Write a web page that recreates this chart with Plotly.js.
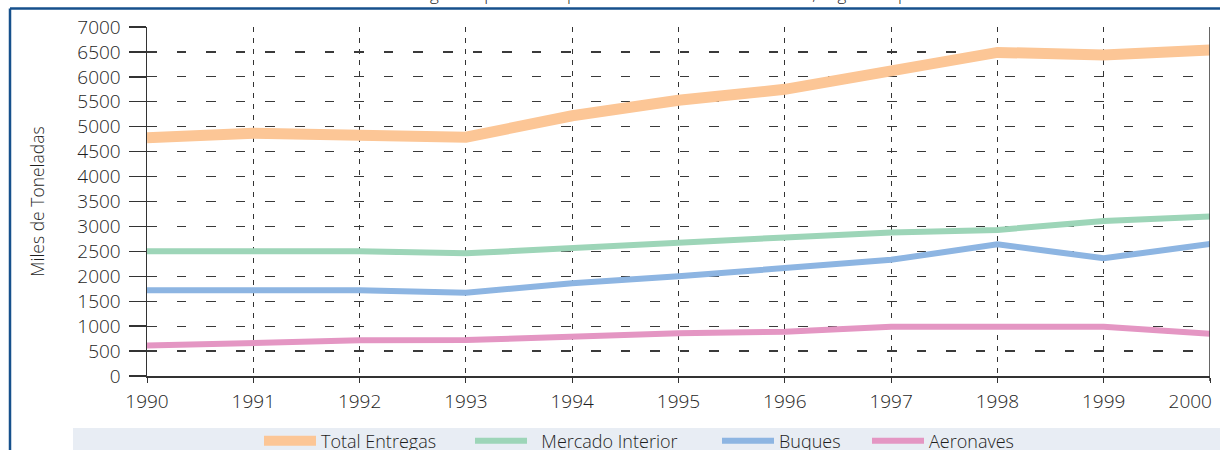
<!DOCTYPE html>
<html>
<head>
<meta charset="utf-8">
<script src="https://cdn.plot.ly/plotly-3.0.1.min.js"></script>
<style>html,body{margin:0;padding:0;background:#fff;}#chart{width:1220px;height:450px;}</style>
</head>
<body>
<div id="chart"></div>
<script>
// ---- data ----
var years = [1990, 1991, 1992, 1993, 1994, 1995, 1996, 1997, 1998, 1999, 2000];
var yearLabels = ["1990", "1991", "1992", "1993", "1994", "1995", "1996", "1997", "1998", "1999", "2000"];
var totalEntregas = [4780, 4870, 4830, 4790, 5220, 5530, 5750, 6130, 6490, 6440, 6540];
var mercadoInterior = [2500, 2500, 2500, 2460, 2570, 2700, 2780, 2880, 2930, 3110, 3200];
var buques = [1720, 1720, 1720, 1670, 1860, 2000, 2150, 2330, 2640, 2360, 2650];
var aeronaves = [610, 670, 715, 720, 800, 855, 890, 990, 990, 990, 845];
var seriesNames = ["Total Entregas", "Mercado Interior", "Buques", "Aeronaves"];
var yTickVals = [0, 500, 1000, 1500, 2000, 2500, 3000, 3500, 4000, 4500, 5000, 5500, 6000, 6500, 7000];
var titleText = "Evolución de las entregas de productos petrolíferos en las Islas Canarias, según el tipo de consumo";
var yTitle = "Miles de Toneladas";

// ---- layout helpers (pixel -> paper) ----
var W = 1220, H = 450, L = 147, R = 10, T = 27, B = 74;
var pw = W - L - R, ph = H - T - B;
function px(x) { return (x - L) / pw; }
function py(y) { return (H - B - y) / ph; }

var font = "Open Sans, Noto Sans, DejaVu Sans, sans-serif";
var txt = "#1e1e1e";
var colors = ["rgb(252,198,150)", "rgb(157,213,184)", "rgb(141,181,226)", "rgb(228,150,195)"];
var widths = [11, 6, 6, 6];
var seriesData = [totalEntregas, mercadoInterior, buques, aeronaves];
var legendIds = ["legend", "legend2", "legend3", "legend4"];
var legendX = [259, 470, 717, 867];
var legendPrefix = ["", "\u00a0\u00a0", "", ""];

var traces = seriesData.map(function (d, i) {
  return {
    x: years, y: d, type: "scatter", mode: "lines",
    name: legendPrefix[i] + seriesNames[i],
    line: { color: colors[i], width: widths[i] },
    legend: legendIds[i]
  };
});

var tickText = yearLabels.slice();
tickText[tickText.length - 1] = tickText[tickText.length - 1] + "\u00a0\u00a0\u00a0\u00a0\u00a0\u00a0\u00a0\u00a0";

var layout = {
  width: W, height: H,
  margin: { l: L, r: R, t: T, b: B, pad: 0 },
  paper_bgcolor: "#fff", plot_bgcolor: "#fff",
  font: { family: font, size: 18, color: txt, weight: 300 },
  showlegend: true,
  title: {
    text: titleText, font: { family: font, size: 17, color: txt, weight: 300 },
    xref: "container", yref: "container", x: 0.5 + 30 / W, xanchor: "center", y: 0.999, yanchor: "bottom"
  },
  xaxis: {
    range: [1990, 2000], tickvals: years, ticktext: tickText,
    showline: true, linecolor: "#333", linewidth: 1.5,
    ticks: "outside", ticklen: 5, tickcolor: "#333", tickwidth: 1,
    showgrid: true, gridcolor: "#333", gridwidth: 1, griddash: "5px,6px",
    zeroline: false, ticklabeloverflow: "allow", ticklabelstandoff: 3,
    tickfont: { family: font, size: 19, color: txt, weight: 300 }, fixedrange: true
  },
  yaxis: {
    range: [0, 7000], tickvals: yTickVals,
    showline: true, linecolor: "#333", linewidth: 1.5,
    ticks: "outside", ticklen: 17, tickcolor: "#333", tickwidth: 1.3,
    showgrid: true, gridcolor: "#3a3a3a", gridwidth: 1.2, griddash: "9.6px,20px",
    zeroline: false, ticklabelstandoff: 4,
    tickfont: { family: font, size: 19, color: txt, weight: 300 },
    title: { text: yTitle, font: { family: font, size: 17.5, color: txt, weight: 300 }, standoff: 28 },
    automargin: false, fixedrange: true
  },
  shapes: [
    { type: "rect", xref: "paper", yref: "paper", x0: px(73), x1: px(1230), y0: py(428), y1: py(460),
      fillcolor: "#e8edf4", line: { width: 0 }, layer: "below" },
    { type: "line", xref: "paper", yref: "paper", x0: px(10), x1: px(1230), y0: py(8.5), y1: py(8.5),
      line: { color: "#16508c", width: 2.5 } },
    { type: "line", xref: "paper", yref: "paper", x0: px(10), x1: px(10), y0: py(8.5), y1: py(460),
      line: { color: "#16508c", width: 2.5 } },
    { type: "line", xref: "x", yref: "paper", x0: 2000, x1: 2000, y0: py(381), y1: 1,
      line: { color: "#333", width: 1.5 } }
  ]
};
legendIds.forEach(function (id, i) {
  layout[id] = {
    xref: "container", yref: "container", x: legendX[i] / W, xanchor: "left",
    y: (H - 441) / H, yanchor: "middle", orientation: "h",
    bgcolor: "rgba(0,0,0,0)", borderwidth: 0, itemwidth: 52,
    font: { family: font, size: 18, color: txt, weight: 300 }
  };
});

Plotly.newPlot("chart", traces, layout, { staticPlot: true, displayModeBar: false });
</script>
</body>
</html>
